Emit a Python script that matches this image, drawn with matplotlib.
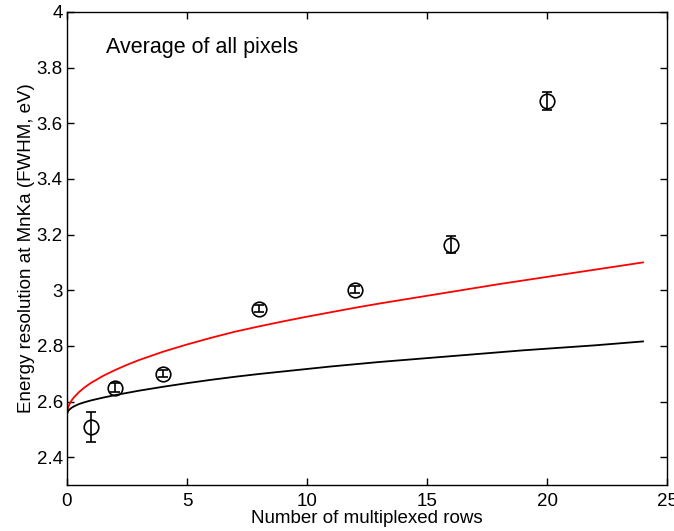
import numpy as np
import matplotlib.pyplot as plt

# measured points
rows = [1, 2, 4, 8, 12, 16, 20]
res = [2.508, 2.650, 2.700, 2.934, 3.002, 3.164, 3.681]
err = [0.053, 0.015, 0.012, 0.012, 0.012, 0.030, 0.033]

# model curves
curve_x = [0, 0.05, 0.1, 0.2, 0.3, 0.5, 0.75, 1, 1.5, 2, 2.5, 3, 4, 5, 6, 7, 8,
           9, 10, 11, 12, 13, 14, 15, 16, 17, 18, 19, 20, 21, 22, 23, 24]
red_y = [2.555, 2.580, 2.590, 2.605, 2.616, 2.634, 2.652, 2.667, 2.692, 2.713,
         2.732, 2.749, 2.779, 2.805, 2.829, 2.851, 2.870, 2.888, 2.905, 2.921,
         2.937, 2.952, 2.966, 2.980, 2.994, 3.008, 3.022, 3.035, 3.048, 3.061,
         3.074, 3.087, 3.100]
black_y = [2.555, 2.566, 2.571, 2.578, 2.583, 2.591, 2.598, 2.604, 2.614, 2.623,
           2.631, 2.639, 2.653, 2.666, 2.678, 2.689, 2.699, 2.708, 2.717, 2.726,
           2.734, 2.742, 2.749, 2.756, 2.763, 2.770, 2.777, 2.784, 2.790, 2.796,
           2.802, 2.809, 2.816]

plt.rcParams['font.family'] = ['Liberation Sans', 'DejaVu Sans']

fig = plt.figure(figsize=(6.74, 5.31), dpi=100)
ax = fig.add_axes([67 / 674, 46 / 531, 600 / 674, 473 / 531])

ax.plot(curve_x, red_y, color='red', lw=1.3)
ax.plot(curve_x, black_y, color='black', lw=1.3)
ax.errorbar(rows, res, yerr=err, fmt='o', mfc='none', mec='black', color='black',
            markersize=10.5, mew=1.2, capsize=3.8, elinewidth=1.2, capthick=1.2)

ax.set_xlim(0, 25)
ax.set_ylim(2.3, 4)
ax.set_xticks([0, 5, 10, 15, 20, 25])
ax.set_yticks([2.4, 2.6, 2.8, 3.0, 3.2, 3.4, 3.6, 3.8, 4.0])
ax.set_yticklabels(['2.4', '2.6', '2.8', '3', '3.2', '3.4', '3.6', '3.8', '4'])
ax.tick_params(direction='in', top=True, right=True, labelsize=13.5, length=5, width=1)
ax.tick_params(axis='x', pad=6)
ax.tick_params(axis='y', pad=3)
for s in ax.spines.values():
    s.set_linewidth(1.0)
ax.set_xlabel('Number of multiplexed rows', fontsize=13.5, labelpad=0)
ax.set_ylabel('Energy resolution at MnKa (FWHM, eV)', fontsize=13.5, labelpad=1)
ax.text(0.065, 0.926, 'Average of all pixels', transform=ax.transAxes,
        fontsize=15.5, va='center')

fig.savefig('out.png', dpi=100)
